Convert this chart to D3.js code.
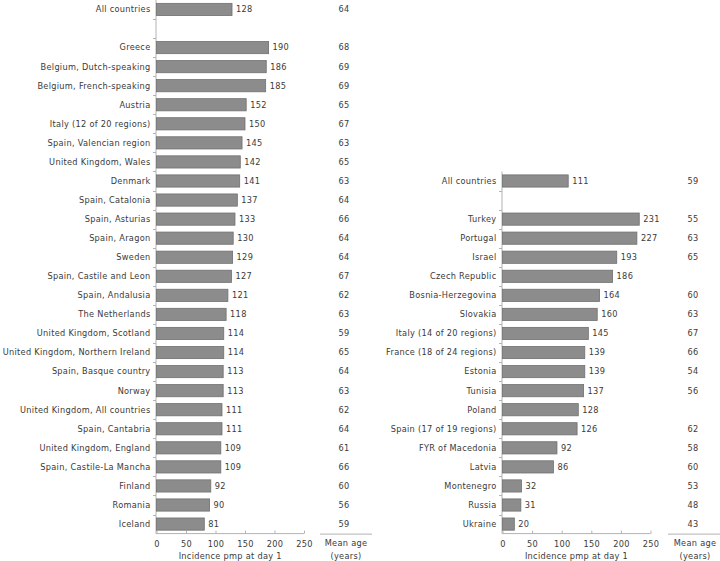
<!DOCTYPE html>
<html>
<head>
<meta charset="utf-8">
<script src="https://cdn.jsdelivr.net/npm/d3@7"></script>
<style>
  html, body { margin: 0; padding: 0; background: #fff; }
  text { font-family: "DejaVu Sans", Verdana, sans-serif; fill: #3a3a3a; }
</style>
</head>
<body>
<svg id="chart" width="720" height="561"></svg>
<script>
// ---------- Data ----------
const leftCategories = ["All countries", "", "Greece", "Belgium, Dutch-speaking", "Belgium, French-speaking",
  "Austria", "Italy (12 of 20 regions)", "Spain, Valencian region", "United Kingdom, Wales", "Denmark",
  "Spain, Catalonia", "Spain, Asturias", "Spain, Aragon", "Sweden", "Spain, Castile and Leon",
  "Spain, Andalusia", "The Netherlands", "United Kingdom, Scotland", "United Kingdom, Northern Ireland",
  "Spain, Basque country", "Norway", "United Kingdom, All countries", "Spain, Cantabria",
  "United Kingdom, England", "Spain, Castile-La Mancha", "Finland", "Romania", "Iceland"];
const leftIncidence = [128, null, 190, 186, 185, 152, 150, 145, 142, 141, 137, 133, 130, 129, 127,
  121, 118, 114, 114, 113, 113, 111, 111, 109, 109, 92, 90, 81];
const leftMeanAge = [64, null, 68, 69, 69, 65, 67, 63, 65, 63, 64, 66, 64, 64, 67,
  62, 63, 59, 65, 64, 63, 62, 64, 61, 66, 60, 56, 59];

const rightCategories = ["All countries", "", "Turkey", "Portugal", "Israel", "Czech Republic",
  "Bosnia-Herzegovina", "Slovakia", "Italy (14 of 20 regions)", "France (18 of 24 regions)",
  "Estonia", "Tunisia", "Poland", "Spain (17 of 19 regions)", "FYR of Macedonia", "Latvia",
  "Montenegro", "Russia", "Ukraine"];
const rightIncidence = [111, null, 231, 227, 193, 186, 164, 160, 145, 139, 139, 137, 128, 126,
  92, 86, 32, 31, 20];
const rightMeanAge = [59, null, 55, 63, 65, null, 60, 63, 67, 66, 54, 56, null, 62, 58, 60, 53, 48, 43];

const xTicks = [0, 50, 100, 150, 200, 250];
const xTitle = "Incidence pmp at day 1";
const ageTitle = ["Mean age", "(years)"];

// ---------- Drawing ----------
const svg = d3.select("#chart");
const FS = 8.2;
const LS = 0.3;
const AXIS = "#b3b3b3";

function panel(cfg) {
  const g = svg.append("g");
  const n = cfg.cats.length;
  const step = 19.06;
  const yBottom = 533.6;
  const yTop = yBottom - n * step;
  const ids = cfg.cats.map((c, i) => i);
  const y = d3.scaleBand().domain(ids).range([yTop, yBottom]).paddingInner(0.36).paddingOuter(0.18);
  const x = d3.scaleLinear().domain([0, 250]).range([cfg.x0, cfg.x1]);

  // y-axis line & ticks at band boundaries
  g.append("line").attr("x1", cfg.x0 - 0.5).attr("x2", cfg.x0 - 0.5)
    .attr("y1", yTop).attr("y2", yBottom).attr("stroke", AXIS).attr("stroke-width", 1);
  for (let i = 1; i < n; i++) {
    const yy = Math.round(yTop + i * step) + 0.5;
    g.append("line").attr("x1", cfg.x0 - 3.5).attr("x2", cfg.x0 - 0.5)
      .attr("y1", yy).attr("y2", yy).attr("stroke", AXIS);
  }

  // x-axis
  const xAxis = d3.axisBottom(x).tickValues(xTicks).tickSize(0).tickPadding(8);
  const ax = g.append("g").attr("transform", `translate(0,${yBottom})`).call(xAxis);
  ax.select(".domain").attr("stroke", AXIS).attr("d", `M${cfg.x0 - 0.5},0H${cfg.x1}`);
  ax.selectAll(".tick text").attr("font-size", FS).attr("letter-spacing", LS)
    .attr("font-family", "DejaVu Sans, Verdana, sans-serif").style("fill", "#3a3a3a");
  ax.selectAll(".tick").append("line").attr("y1", 0).attr("y2", -3).attr("stroke", AXIS);
  g.append("text").attr("x", (cfg.x0 + cfg.x1) / 2).attr("y", 559)
    .attr("text-anchor", "middle").attr("font-size", FS).attr("letter-spacing", LS).text(xTitle);

  // bars
  const rows = ids.filter(i => cfg.inc[i] != null);
  g.selectAll("rect.bar").data(rows).join("rect").attr("class", "bar")
    .attr("x", x(0)).attr("y", i => y(i))
    .attr("width", i => x(cfg.inc[i]) - x(0)).attr("height", y.bandwidth())
    .attr("fill", "#8c8c8c").attr("stroke", "#707070").attr("stroke-width", 0.8);

  // value labels
  g.selectAll("text.val").data(rows).join("text").attr("class", "val")
    .attr("x", i => x(cfg.inc[i]) + 4).attr("y", i => y(i) + y.bandwidth() / 2)
    .attr("dy", "0.35em").attr("font-size", FS).attr("letter-spacing", LS)
    .text(i => cfg.inc[i]);

  // category labels
  g.selectAll("text.cat").data(ids.filter(i => cfg.cats[i] !== "")).join("text").attr("class", "cat")
    .attr("x", cfg.x0 - 6).attr("y", i => y(i) + y.bandwidth() / 2)
    .attr("dy", "0.35em").attr("text-anchor", "end").attr("font-size", FS).attr("letter-spacing", LS)
    .text(i => cfg.cats[i]);

  // mean age column
  g.selectAll("text.age").data(ids.filter(i => cfg.age[i] != null)).join("text").attr("class", "age")
    .attr("x", cfg.ageX).attr("y", i => y(i) + y.bandwidth() / 2)
    .attr("dy", "0.35em").attr("text-anchor", "middle").attr("font-size", FS).attr("letter-spacing", LS)
    .text(i => cfg.age[i]);
  g.append("line").attr("x1", cfg.ageL0).attr("x2", cfg.ageL1)
    .attr("y1", yBottom + 0.5).attr("y2", yBottom + 0.5).attr("stroke", AXIS);
  ageTitle.forEach((t, k) => {
    g.append("text").attr("x", cfg.ageX + 2).attr("y", 546 + k * 12.5)
      .attr("text-anchor", "middle").attr("font-size", FS).attr("letter-spacing", LS).text(t);
  });
}

panel({ cats: leftCategories, inc: leftIncidence, age: leftMeanAge,
  x0: 156.5, x1: 304, ageX: 344, ageL0: 320, ageL1: 372 });
panel({ cats: rightCategories, inc: rightIncidence, age: rightMeanAge,
  x0: 502.5, x1: 650.5, ageX: 693, ageL0: 668, ageL1: 721 });
</script>
</body>
</html>
